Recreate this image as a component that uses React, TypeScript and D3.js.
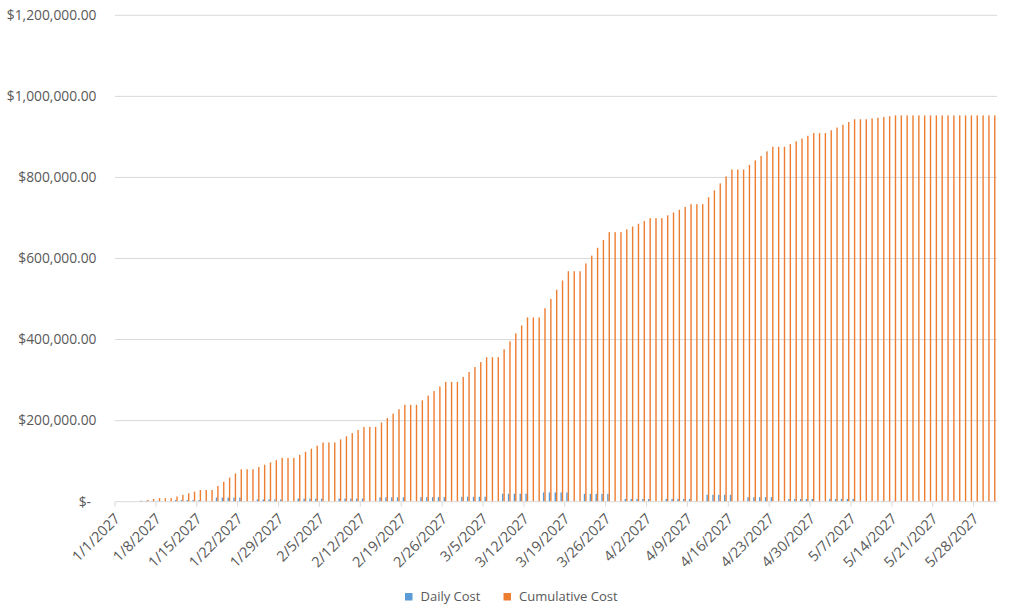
import React, { useEffect, useRef } from 'react';
import * as d3 from 'd3';

// one category per day, 1/1/2027 .. 5/31/2027
const days: Date[] = d3.timeDays(new Date(2027, 0, 1), new Date(2027, 5, 1));

// each row is one week, Fri .. Thu
const dailyCost: number[] = [
  0, 0, 0, 0, 2200, 2200, 2200,
  2200, 0, 0, 4000, 4000, 4000, 4000,
  4000, 0, 0, 10250, 10250, 10250, 10250,
  10250, 0, 0, 5600, 5600, 5600, 5600,
  5600, 0, 0, 7600, 7600, 7600, 7600,
  7600, 0, 0, 7700, 7700, 7700, 7700,
  7700, 0, 0, 10900, 10900, 10900, 10900,
  10900, 0, 0, 11300, 11300, 11300, 11300,
  11300, 0, 0, 12200, 12200, 12200, 12200,
  12200, 0, 0, 19600, 19600, 19600, 19600,
  19600, 0, 0, 22800, 22800, 22800, 22800,
  22800, 0, 0, 19300, 19300, 19300, 19300,
  19300, 0, 0, 6900, 6900, 6900, 6900,
  6900, 0, 0, 6900, 6900, 6900, 6900,
  6900, 0, 0, 17100, 17100, 17100, 17100,
  17100, 0, 0, 11200, 11200, 11200, 11200,
  11200, 0, 0, 6800, 6800, 6800, 6800,
  6800, 0, 0, 6800, 6800, 6800, 6800,
  6800, 0, 0, 1900, 1900, 1900, 1900,
  1900, 0, 0, 0, 0, 0, 0,
  0, 0, 0, 0, 0, 0, 0,
  0, 0, 0, 0,
];

const cumulativeCost: number[] = [
  0, 0, 0, 0, 2200, 4400, 6600,
  8800, 8800, 8800, 12800, 16800, 20800, 24800,
  28800, 28800, 28800, 39050, 49300, 59550, 69800,
  80050, 80050, 80050, 85650, 91250, 96850, 102450,
  108050, 108050, 108050, 115650, 123250, 130850, 138450,
  146050, 146050, 146050, 153750, 161450, 169150, 176850,
  184550, 184550, 184550, 195450, 206350, 217250, 228150,
  239050, 239050, 239050, 250350, 261650, 272950, 284250,
  295550, 295550, 295550, 307750, 319950, 332150, 344350,
  356550, 356550, 356550, 376150, 395750, 415350, 434950,
  454550, 454550, 454550, 477350, 500150, 522950, 545750,
  568550, 568550, 568550, 587850, 607150, 626450, 645750,
  665050, 665050, 665050, 671950, 678850, 685750, 692650,
  699550, 699550, 699550, 706450, 713350, 720250, 727150,
  734050, 734050, 734050, 751150, 768250, 785350, 802450,
  819550, 819550, 819550, 830750, 841950, 853150, 864350,
  875550, 875550, 875550, 882350, 889150, 895950, 902750,
  909550, 909550, 909550, 916350, 923150, 929950, 936750,
  943550, 943550, 943550, 945450, 947350, 949250, 951150,
  953050, 953050, 953050, 953050, 953050, 953050, 953050,
  953050, 953050, 953050, 953050, 953050, 953050, 953050,
  953050, 953050, 953050, 953050,
];

const seriesNames = ['Daily Cost', 'Cumulative Cost'];
const seriesColors = ['#5B9BD5', '#ED7D31'];
const yTicks = [0, 200000, 400000, 600000, 800000, 1000000, 1200000];
const labelEvery = 7;

const width = 1023,
      height = 615;
const left = 115,
      right = 997,
      top = 15.3,
      bottom = 501.7;
const font = '"Open Sans", sans-serif';
const textColor = '#595959';

const fmtDate = d3.timeFormat('%-m/%-d/%Y');
const fmtMoney = (v: number) => (v === 0 ? '$-' : '$' + d3.format(',.2f')(v));

const App = () => {
  const ref = useRef<SVGSVGElement>(null);

  useEffect(() => {
    document.body.style.margin = '0';
    const svg = d3.select(ref.current);
    svg.selectAll('*').remove();

    const keys = days.map(d => fmtDate(d));
    const gap = 1 - 2 / (2 + 2.19); // excel gap width 219%
    const x = d3.scaleBand<string>()
                .domain(keys)
                .range([left, right])
                .paddingInner(gap)
                .paddingOuter(gap / 2);
    const x1 = d3.scaleBand<string>()
                 .domain(seriesNames)
                 .range([0, x.bandwidth()]);
    const y = d3.scaleLinear()
                .domain([0, 1200000])
                .range([bottom, top]);

    // gridlines + y labels
    const grid = svg.append('g');
    grid.selectAll('line')
        .data(yTicks.slice(1))
        .enter()
        .append('line')
        .attr('x1', left)
        .attr('x2', right)
        .attr('y1', d => y(d))
        .attr('y2', d => y(d))
        .attr('stroke', '#d9d9d9')
        .attr('stroke-width', 1);
    grid.selectAll('text')
        .data(yTicks)
        .enter()
        .append('text')
        .attr('x', d => (d === 0 ? 91 : 96.5))
        .attr('y', d => y(d))
        .attr('dy', '0.35em')
        .attr('text-anchor', 'end')
        .attr('font-family', font)
        .attr('font-size', 13.8)
        .attr('fill', textColor)
        .text(d => fmtMoney(d));

    // bars
    const series = [dailyCost, cumulativeCost];
    series.forEach((vals, s) => {
      svg.append('g')
         .selectAll('rect')
         .data(vals)
         .enter()
         .append('rect')
         .attr('x', (d, i) => (x(keys[i]) as number) + (x1(seriesNames[s]) as number))
         .attr('width', x1.bandwidth())
         .attr('y', d => y(d))
         .attr('height', d => bottom - y(d))
         .attr('fill', seriesColors[s]);
    });

    // x axis
    const step = x.step();
    const ax = svg.append('g');
    ax.append('line')
      .attr('x1', left)
      .attr('x2', right)
      .attr('y1', bottom)
      .attr('y2', bottom)
      .attr('stroke', '#d9d9d9');
    const tickKeys = keys.filter((k, i) => i % labelEvery === 0);
    ax.selectAll('line.tick')
      .data(tickKeys)
      .enter()
      .append('line')
      .attr('class', 'tick')
      .attr('x1', d => (x(d) as number) - (step - x.bandwidth()) / 2)
      .attr('x2', d => (x(d) as number) - (step - x.bandwidth()) / 2)
      .attr('y1', bottom)
      .attr('y2', bottom + 5)
      .attr('stroke', '#d9d9d9');
    ax.selectAll('text')
      .data(tickKeys)
      .enter()
      .append('text')
      .attr('transform', d => {
        const cx = (x(d) as number) + x.bandwidth() / 2 + 3;
        return `translate(${cx},${bottom + 18}) rotate(-45)`;
      })
      .attr('text-anchor', 'end')
      .attr('font-family', font)
      .attr('font-size', 14.5)
      .attr('fill', textColor)
      .text(d => d);

    // legend
    const legendX = [405, 503.5];
    const lg = svg.append('g');
    seriesNames.forEach((name, i) => {
      lg.append('rect')
        .attr('x', legendX[i])
        .attr('y', 593)
        .attr('width', 7.5)
        .attr('height', 7.5)
        .attr('fill', seriesColors[i]);
      lg.append('text')
        .attr('x', legendX[i] + 15.5)
        .attr('y', 601)
        .attr('font-family', font)
        .attr('font-size', 13)
        .attr('fill', textColor)
        .text(name);
    });
  }, []);

  return <svg ref={ref} width={width} height={height} style={{ display: 'block', background: '#fff' }} />;
};

export default App;
